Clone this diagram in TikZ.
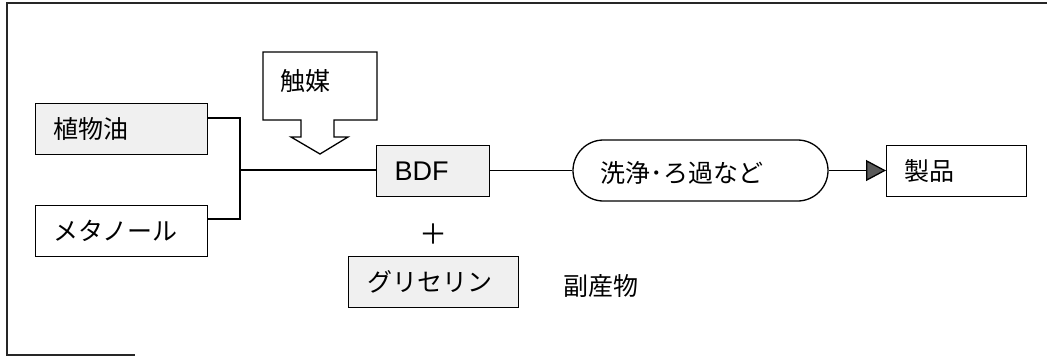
\documentclass[tikz,border=0pt]{standalone}
\usepackage{fontspec}
\setmainfont{Liberation Sans}
\newfontfamily\jp{Noto Sans CJK JP}
\usetikzlibrary{arrows.meta,shapes.misc}
\begin{document}
\begin{tikzpicture}[x=1pt,y=-1pt,
  line width=1.3pt,
  jpfont/.style={font=\jp\fontsize{25}{28}\selectfont},
  box/.style={draw, anchor=north west, inner xsep=18pt, inner ysep=0pt, align=left, jpfont},
  gbox/.style={box, fill=gray!12},
  lbl/.style={anchor=west, inner sep=0pt, jpfont},
  frameline/.style={line width=1.8pt, black!85}
]
\useasboundingbox (0,0) rectangle (1047,356);
% frame
\coordinate (ftl) at (7,3);
\coordinate (ftr) at (1047,3);
\coordinate (fbl) at (7,355);
\coordinate (fbm) at (135,355);
\draw[frameline] (ftr) -- (ftl) -- (fbl) -- (fbm);

% inputs
\node[gbox, text width=136pt, minimum height=51pt] (oil) at (35,103) {植物油};
\node[box, text width=136pt, minimum height=51pt] (meth) at (35,205) {メタノール};
\coordinate (j) at (240,170);
\draw ([yshift=-15pt]oil.north east) -| (j);
\draw ([yshift=-14pt]meth.north east) -| (j);

% catalyst block arrow
\draw[fill=white] (263,52) -- (377,52) -- (377,120) -- (334,120) -- (334,137) -- (348,137)
  -- (320,154) -- (291,137) -- (301,137) -- (301,120) -- (263,120) -- cycle;
\node[lbl] (cat) at (280,81) {触媒};

% BDF
\node[gbox, text width=77pt, minimum height=51pt, font=\fontsize{27}{30}\selectfont, inner xsep=18pt] (bdf) at (376,145) {BDF};
\draw (j) -- (j -| bdf.west);

% plus and glycerin
\node[inner sep=0pt, font=\jp\fontsize{28}{30}\selectfont] (plus) at (433,234) {＋};
\node[gbox, text width=132pt, minimum height=51pt, inner xsep=19pt] (gly) at (348,256) {グリセリン};
\node[lbl] (by) at (563,286) {副産物};

% washing
\node[draw, rounded rectangle, minimum width=255pt, minimum height=61pt, inner sep=0pt] (wash) at (700.5,170.5) {};
\node[lbl] (washtxt) at (600,173) {洗浄･ろ過など};
\draw (bdf.east |- wash.west) -- (wash.west);

% product
\node[box, text width=104pt, minimum height=51pt, inner xsep=18pt] (prod) at (886,145) {製品};
\draw[-{Triangle[length=20pt,width=21pt,fill=black!65]}] (wash.east) -- (wash.east -| prod.west);
\end{tikzpicture}
\end{document}
